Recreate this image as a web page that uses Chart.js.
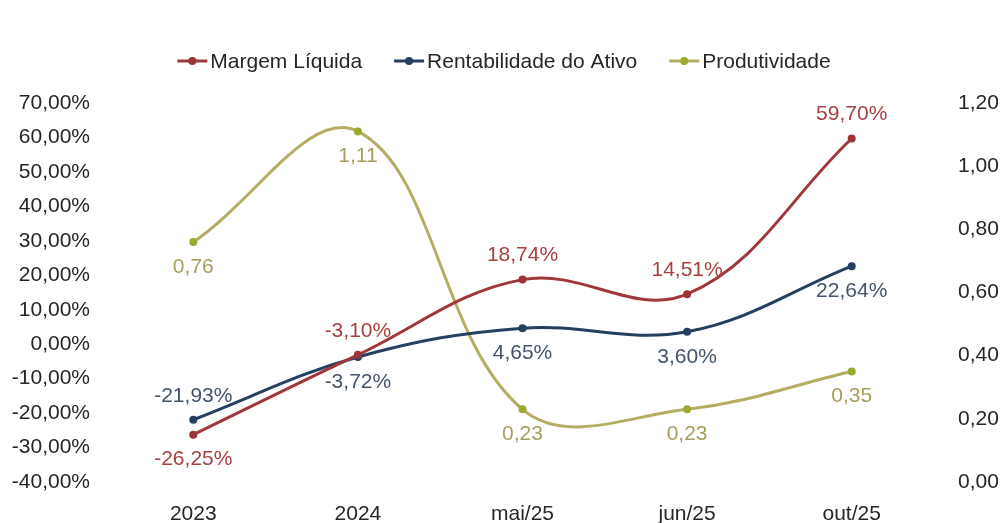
<!DOCTYPE html>
<html>
<head>
<meta charset="utf-8">
<script src="https://cdn.jsdelivr.net/npm/chart.js@4.4.1/dist/chart.umd.min.js"></script>
<style>
  html, body { margin: 0; padding: 0; background: #ffffff; }
  #wrap { width: 1002px; height: 523px; position: relative; }
</style>
</head>
<body>
<div id="wrap"><canvas id="chart"></canvas></div>
<script>
// ── Data ─────────────────────────────────────────────────────────────────────
const categories = ['2023', '2024', 'mai/25', 'jun/25', 'out/25'];
const margemLiquida = [-26.25, -3.10, 18.74, 14.51, 59.70];
const rentabilidadeAtivo = [-21.93, -3.72, 4.65, 3.60, 22.64];
const produtividade = [0.76, 1.11, 0.23, 0.23, 0.35];
const leftTicks = [-40, -30, -20, -10, 0, 10, 20, 30, 40, 50, 60, 70];
const rightTicks = [0, 0.2, 0.4, 0.6, 0.8, 1.0, 1.2];

// label placement per point: 'a' = above, 'b' = below
const margemPos = ['b', 'a', 'a', 'a', 'a'];
const rentPos = ['a', 'b', 'b', 'b', 'b'];
const prodPos = ['b', 'b', 'b', 'b', 'b'];

// ── Helpers ──────────────────────────────────────────────────────────────────
const FONT = '"Liberation Sans", Arial, sans-serif';
const SIZE = 21;
const fmt = (v, d) => v.toFixed(d).replace('.', ',');
const pct = (v) => `${fmt(v, 2)}%`;

const series = [
    { label: 'Margem Líquida', data: margemLiquida, axis: 'y', line: '#A0373A', point: '#9C3336', text: '#A8403F', pos: margemPos, fmt: pct },
    { label: 'Rentabilidade do Ativo', data: rentabilidadeAtivo, axis: 'y', line: '#243F60', point: '#243F60', text: '#44546A', pos: rentPos, fmt: pct },
    { label: 'Produtividade', data: produtividade, axis: 'y1', line: '#B5AE62', point: '#9AAA2C', text: '#A89F5E', pos: prodPos, fmt: (v) => fmt(v, 2) },
];

// custom legend drawn on top
const legendPlugin = {
    id: 'topLegend',
    afterDraw(chart) {
        const ctx = chart.ctx;
        ctx.save();
        ctx.font = `${SIZE}px ${FONT}`;
        ctx.textBaseline = 'middle';
        const y = 61;
        const lineW = 30;
        const gap = 32;
        const widths = series.map((s) => lineW + 3 + ctx.measureText(s.label).width);
        const total = widths.reduce((a, b) => a + b, 0) + gap * (series.length - 1);
        let x = (chart.width - total) / 2 + 3;
        series.forEach((s, i) => {
            ctx.strokeStyle = s.line;
            ctx.lineWidth = 3;
            ctx.beginPath();
            ctx.moveTo(x, y);
            ctx.lineTo(x + lineW, y);
            ctx.stroke();
            ctx.fillStyle = s.point;
            ctx.beginPath();
            ctx.arc(x + lineW / 2, y, 4, 0, Math.PI * 2);
            ctx.fill();
            ctx.fillStyle = '#262626';
            ctx.textAlign = 'left';
            ctx.fillText(s.label, x + lineW + 3, y + 1);
            x += widths[i] + gap;
        });
        ctx.restore();
    },
};

// data labels above/below each point
const labelPlugin = {
    id: 'pointLabels',
    afterDatasetsDraw(chart) {
        const ctx = chart.ctx;
        ctx.save();
        ctx.font = `${SIZE}px ${FONT}`;
        ctx.textAlign = 'center';
        ctx.textBaseline = 'middle';
        series.forEach((s, di) => {
            const meta = chart.getDatasetMeta(di);
            meta.data.forEach((pt, i) => {
                const dy = s.pos[i] === 'a' ? -24 : 25;
                ctx.fillStyle = s.text;
                ctx.fillText(s.fmt(s.data[i]), pt.x, pt.y + dy);
            });
        });
        ctx.restore();
    },
};

// ── Chart ────────────────────────────────────────────────────────────────────
new Chart(document.getElementById('chart'), {
    type: 'line',
    data: {
        labels: categories,
        datasets: series.map((s) => ({
            label: s.label,
            data: s.data,
            yAxisID: s.axis,
            borderColor: s.line,
            borderWidth: 3,
            pointRadius: 4,
            pointBackgroundColor: s.point,
            pointBorderColor: s.point,
            pointBorderWidth: 0,
            tension: 0.38,
            fill: false,
        })),
    },
    options: {
        responsive: true,
        maintainAspectRatio: false,
        animation: false,
        layout: { padding: { top: 103, bottom: 0, left: 0, right: 0 } },
        plugins: {
            legend: { display: false },
            tooltip: { enabled: false },
        },
        scales: {
            x: {
                offset: true,
                afterFit: (s) => { s.height = 41; },
                grid: { display: false, drawTicks: false },
                border: { display: false },
                ticks: { color: '#262626', font: { family: FONT, size: SIZE }, padding: 20 },
            },
            y: {
                position: 'left',
                min: -40,
                max: 70,
                afterBuildTicks: (s) => { s.ticks = leftTicks.map((v) => ({ value: v })); },
                afterFit: (s) => { s.width = 111; },
                grid: { display: false, drawTicks: false },
                border: { display: false },
                ticks: { color: '#262626', font: { family: FONT, size: SIZE }, padding: 21, callback: (v) => pct(v) },
            },
            y1: {
                position: 'right',
                min: 0,
                max: 1.2,
                afterBuildTicks: (s) => { s.ticks = rightTicks.map((v) => ({ value: v })); },
                afterFit: (s) => { s.width = 68; },
                grid: { display: false, drawTicks: false },
                border: { display: false },
                ticks: { color: '#262626', font: { family: FONT, size: SIZE }, padding: 24, callback: (v) => fmt(v, 2) },
            },
        },
    },
    plugins: [legendPlugin, labelPlugin],
});
</script>
</body>
</html>
